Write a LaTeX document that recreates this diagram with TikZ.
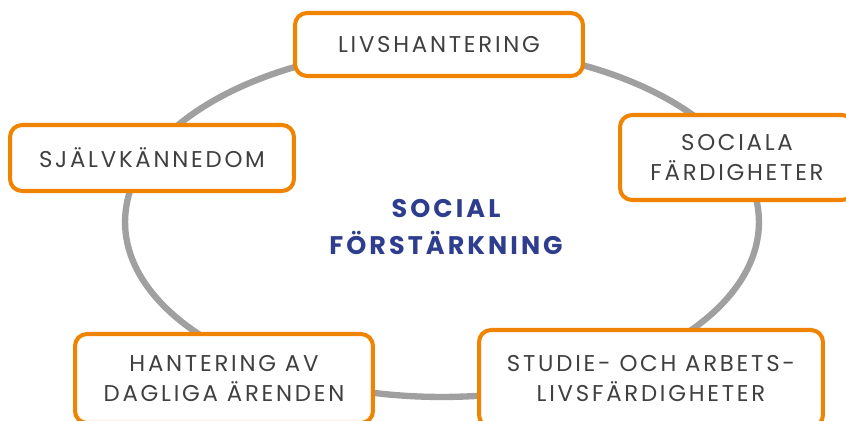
\documentclass[tikz,border=0pt]{standalone}
\usepackage{fontspec}
\newfontfamily\labelfont[LetterSpace=12]{Poppins}
\newfontfamily\titlefont[LetterSpace=12]{Poppins}
\definecolor{boxorange}{HTML}{F08300}
\definecolor{ringgray}{HTML}{A0A0A0}
\definecolor{labelgray}{HTML}{404040}
\definecolor{titleblue}{HTML}{2F3D8E}

\begin{document}
\begin{tikzpicture}[x=0.02cm,y=-0.02cm,
  stage/.style={draw=boxorange, line width=2.3pt, rounded corners=0.24cm,
    fill=white, align=center, inner sep=0pt, text=labelgray,
    font=\labelfont\fontsize{13}{17}\selectfont},
  hub/.style={align=center, text=titleblue,
    font=\titlefont\bfseries\fontsize{14.5}{21.5}\selectfont}]

\clip (0,0) rectangle (846,421);

% ring behind the boxes
\draw[ringgray, line width=3.6pt] (442,222) ellipse [x radius=6.34cm, y radius=3.5cm];

\node[hub] (hub) at (446,227) {SOCIAL\\FÖRSTÄRKNING};

\node[stage, minimum width=5.76cm, minimum height=1.26cm] (livs) at (439,44.5) {LIVSHANTERING};
\node[stage, minimum width=5.68cm, minimum height=1.32cm] (sjalv) at (152,158) {SJÄLVKÄNNEDOM};
\node[stage, minimum width=4.68cm, minimum height=1.70cm] (sociala) at (737,157.5) {SOCIALA\\FÄRDIGHETER};
\node[stage, minimum width=5.96cm, minimum height=1.78cm] (dagliga) at (224,378.5) {HANTERING AV\\DAGLIGA ÄRENDEN};
\node[stage, minimum width=6.88cm, minimum height=1.94cm] (studie) at (651,378.5) {STUDIE- OCH ARBETS-\\LIVSFÄRDIGHETER};

\end{tikzpicture}
\end{document}
